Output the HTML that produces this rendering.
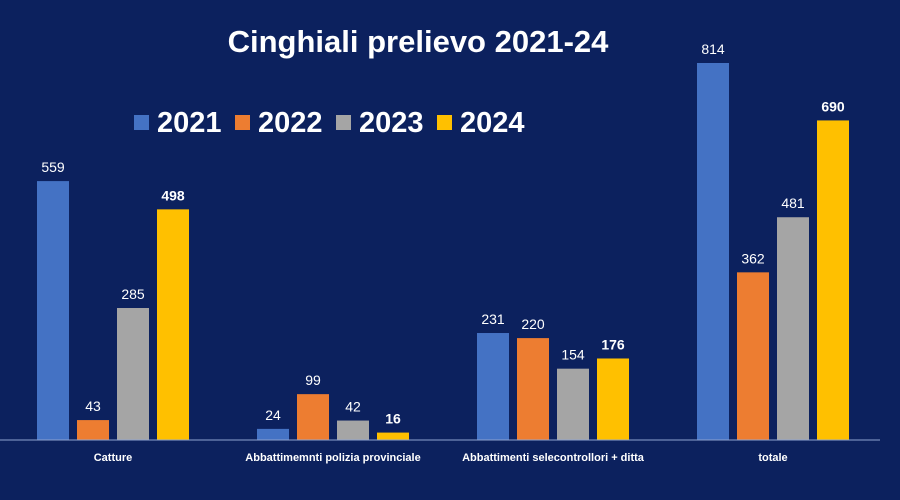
<!DOCTYPE html>
<html><head><meta charset="utf-8"><style>
body{margin:0;background:#0c215e;}
svg{display:block;font-family:"Liberation Sans",Arial,sans-serif;}
</style></head><body>
<svg id="chart" width="900" height="500">
<rect width="900" height="500" fill="#0c215e"/>
<text x="418" y="52" text-anchor="middle" fill="#fff" font-size="31" font-weight="bold">Cinghiali prelievo 2021-24</text>
<g id="legend"></g>
<g id="bars"></g>
<line x1="0" y1="440" x2="880" y2="440" stroke="#8ea3d0" stroke-width="1"/>
</svg>
<script>
const categories=["Catture","Abbattimemnti polizia provinciale","Abbattimenti selecontrollori + ditta","totale"];
const seriesNames=["2021","2022","2023","2024"];
const v2021=[559,24,231,814];
const v2022=[43,99,220,362];
const v2023=[285,42,154,481];
const v2024=[498,16,176,690];
const series=[v2021,v2022,v2023,v2024];
const colors=["#4472c4","#ed7d31","#a5a5a5","#ffc000"];
const NS="http://www.w3.org/2000/svg";
const base=440, scale=377/814, groupW=220, barW=32, step=40, off=37;
const y=v=>base-v*scale;
const x=(c,s)=>c*groupW+off+s*step;
const bars=document.getElementById('bars');
function mk(t,a){const e=document.createElementNS(NS,t);for(const k in a)e.setAttribute(k,a[k]);return e;}
categories.forEach((cat,c)=>{
  series.forEach((arr,s)=>{
    const r=mk('rect',{x:x(c,s),y:y(arr[c]),width:barW,height:arr[c]*scale,fill:colors[s]});
    
    
    bars.appendChild(r);
    const t=mk('text',{x:x(c,s)+barW/2,y:y(arr[c])-9,'text-anchor':'middle',fill:'#fff','font-size':'14'});
    if(s===3)t.setAttribute('font-weight','bold');
    t.textContent=arr[c];
    
    
    bars.appendChild(t);
  });
  const l=mk('text',{x:c*groupW+off+step*1.5+barW/2,y:461,'text-anchor':'middle',fill:'#fff','font-size':'11','font-weight':'bold'});
  l.textContent=cat;
  
  
  bars.appendChild(l);
});
const leg=document.getElementById('legend');
const lx=[134,235,336,437];
seriesNames.forEach((n,i)=>{
  const r=mk('rect',{x:lx[i],y:115,width:15,height:15,fill:colors[i]});
  
  
  leg.appendChild(r);
  const t=mk('text',{x:lx[i]+23,y:132,fill:'#fff','font-size':'29','font-weight':'bold'});
  t.textContent=n;
  
  
  leg.appendChild(t);
});
</script>
</body></html>
